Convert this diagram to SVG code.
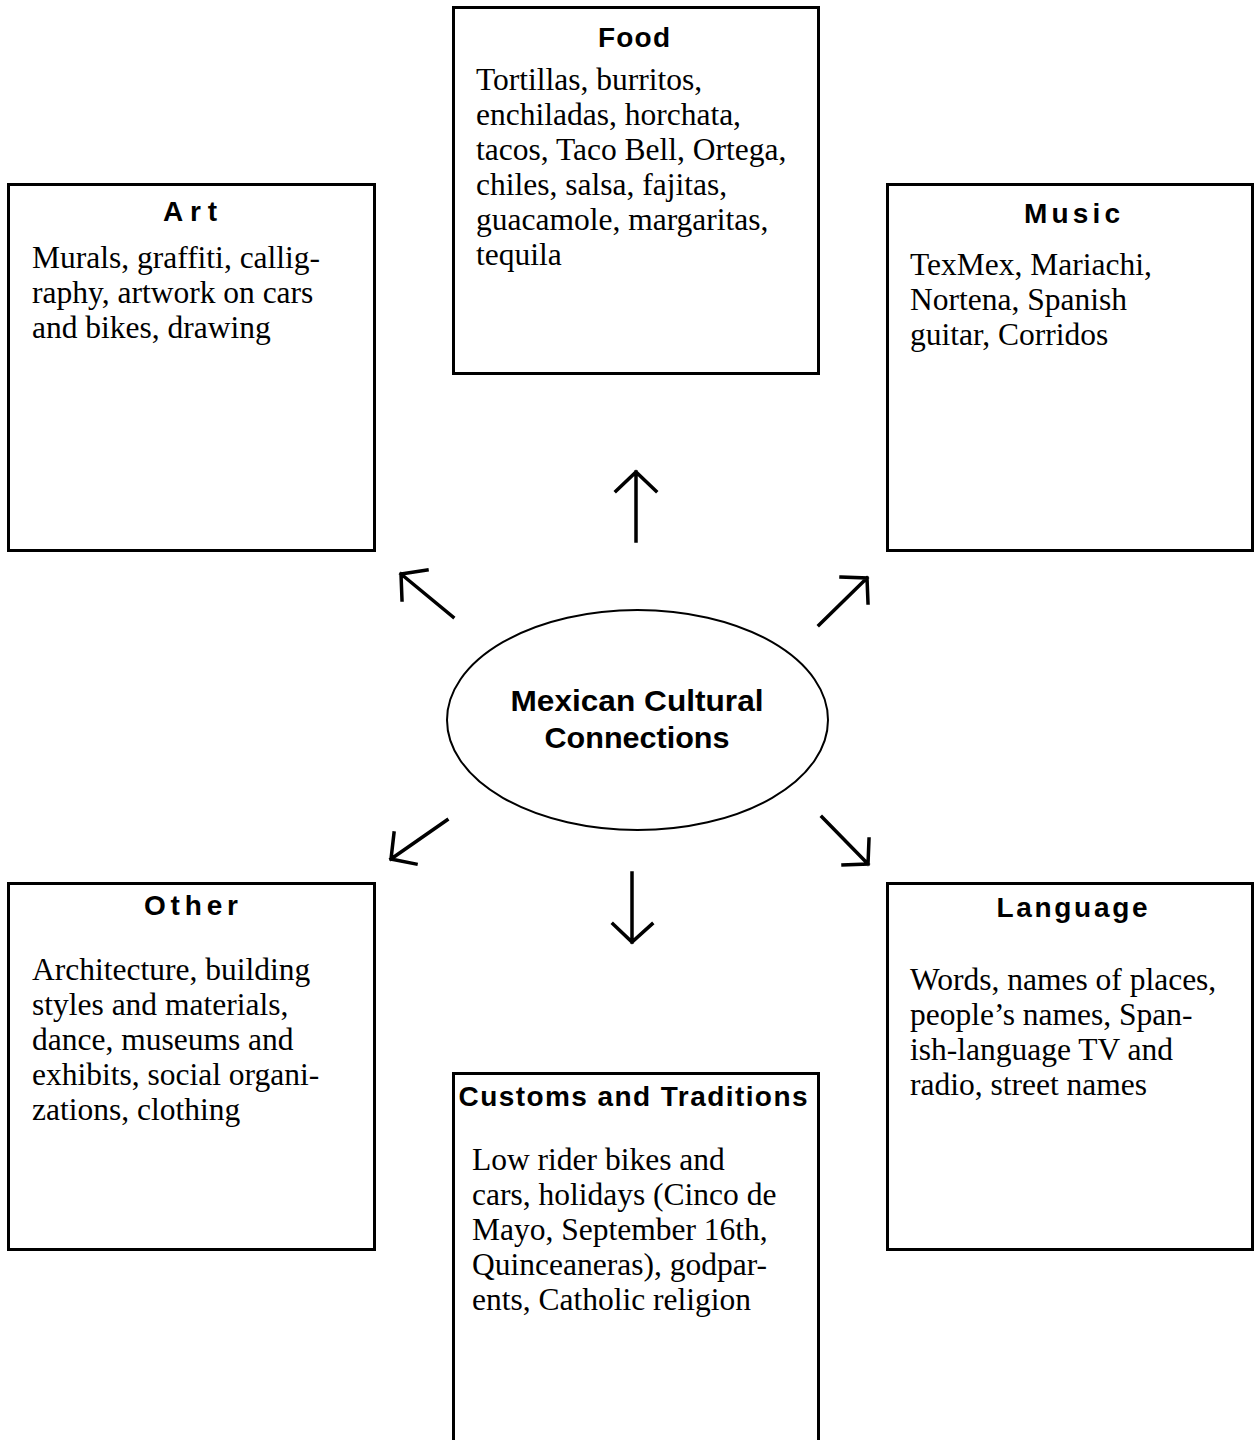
<svg xmlns="http://www.w3.org/2000/svg" width="1256" height="1440" viewBox="0 0 1256 1440">
  <style>
    .box { fill: #ffffff; stroke: #000000; stroke-width: 3; }
    .hub { fill: #ffffff; stroke: #000000; stroke-width: 2; }
    .title { font-family: "Liberation Sans", Arial, sans-serif; font-weight: bold; font-size: 28px; fill: #000000; text-anchor: middle; }
    .hubtext { font-family: "Liberation Sans", Arial, sans-serif; font-weight: bold; font-size: 30px; fill: #000000; text-anchor: middle; }
    .body { font-family: "Liberation Serif", "Times New Roman", serif; font-size: 31.5px; fill: #000000; }
    .arrow { fill: none; stroke: #000000; stroke-width: 3.5; stroke-linecap: square; stroke-linejoin: miter; }
  </style>
  <rect width="1256" height="1440" fill="#ffffff"/>

  <!-- central hub -->
  <g id="hub">
    <ellipse class="hub" cx="637.5" cy="720" rx="190.5" ry="110"/>
    <text class="hubtext" x="637" y="711" textLength="253" lengthAdjust="spacingAndGlyphs">Mexican Cultural</text>
    <text class="hubtext" x="637" y="748" textLength="185" lengthAdjust="spacingAndGlyphs">Connections</text>
  </g>

  <g id="food">
    <rect class="box" x="453.5" y="7.5" width="365" height="366"/>
    <text class="title" x="634" y="47" textLength="72" lengthAdjust="spacing">Food</text>
    <text class="body" x="476" y="90">Tortillas, burritos,</text>
    <text class="body" x="476" y="125">enchiladas, horchata,</text>
    <text class="body" x="476" y="160">tacos, Taco Bell, Ortega,</text>
    <text class="body" x="476" y="195">chiles, salsa, fajitas,</text>
    <text class="body" x="476" y="230">guacamole, margaritas,</text>
    <text class="body" x="476" y="265">tequila</text>
  </g>

  <g id="art">
    <rect class="box" x="8.5" y="184.5" width="366" height="366"/>
    <text class="title" x="190" y="221" textLength="54" lengthAdjust="spacing">Art</text>
    <text class="body" x="32" y="268">Murals, graffiti, callig-</text>
    <text class="body" x="32" y="303">raphy, artwork on cars</text>
    <text class="body" x="32" y="338">and bikes, drawing</text>
  </g>

  <g id="music">
    <rect class="box" x="887.5" y="184.5" width="365" height="366"/>
    <text class="title" x="1072" y="223" textLength="96" lengthAdjust="spacing">Music</text>
    <text class="body" x="910" y="275">TexMex, Mariachi,</text>
    <text class="body" x="910" y="310">Nortena, Spanish</text>
    <text class="body" x="910" y="345">guitar, Corridos</text>
  </g>

  <g id="other">
    <rect class="box" x="8.5" y="883.5" width="366" height="366"/>
    <text class="title" x="191" y="915" textLength="94" lengthAdjust="spacing">Other</text>
    <text class="body" x="32" y="980">Architecture, building</text>
    <text class="body" x="32" y="1015">styles and materials,</text>
    <text class="body" x="32" y="1050">dance, museums and</text>
    <text class="body" x="32" y="1085">exhibits, social organi-</text>
    <text class="body" x="32" y="1120">zations, clothing</text>
  </g>

  <g id="language">
    <rect class="box" x="887.5" y="883.5" width="365" height="366"/>
    <text class="title" x="1072" y="917" textLength="151" lengthAdjust="spacing">Language</text>
    <text class="body" x="910" y="990">Words, names of places,</text>
    <text class="body" x="910" y="1025">people’s names, Span-</text>
    <text class="body" x="910" y="1060">ish-language TV and</text>
    <text class="body" x="910" y="1095">radio, street names</text>
  </g>

  <g id="customs">
    <rect class="box" x="453.5" y="1073.5" width="365" height="380"/>
    <text class="title" x="633" y="1106" textLength="349" lengthAdjust="spacing">Customs and Traditions</text>
    <text class="body" x="472" y="1170">Low rider bikes and</text>
    <text class="body" x="472" y="1205">cars, holidays (Cinco de</text>
    <text class="body" x="472" y="1240">Mayo, September 16th,</text>
    <text class="body" x="472" y="1275">Quinceaneras), godpar-</text>
    <text class="body" x="472" y="1310">ents, Catholic religion</text>
  </g>

  <!-- connectors: open-headed arrows radiating from the hub -->
  <g id="connectors">
    <path class="arrow" d="M636 541 L636 472 M616 491 L636 472 L656 491"/>
    <path class="arrow" d="M453 617 L401 574 M427 570 L401 574 L402 600"/>
    <path class="arrow" d="M819 625 L867 578 M841 577 L867 578 L868 603"/>
    <path class="arrow" d="M447 820 L391 859 M394 833 L391 859 L416 864"/>
    <path class="arrow" d="M822 817 L868 864 M869 839 L868 864 L843 865"/>
    <path class="arrow" d="M632 873 L632 942 M613 924 L632 942 L652 924"/>
  </g>
</svg>
